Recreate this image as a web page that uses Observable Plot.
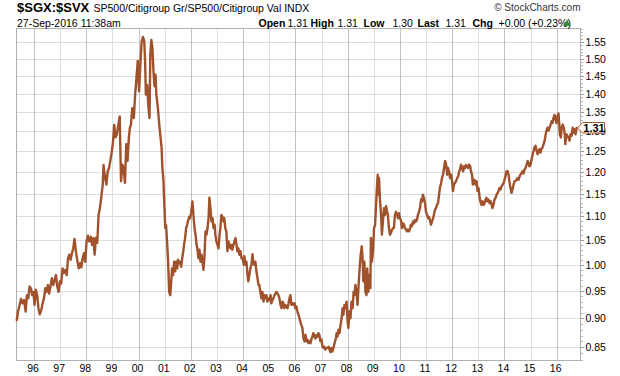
<!DOCTYPE html>
<html><head><meta charset="utf-8">
<script src="https://cdn.jsdelivr.net/npm/d3@7"></script>
<script src="https://cdn.jsdelivr.net/npm/@observablehq/plot@0.6"></script>
<style>body{margin:0;background:#fff} #chart{position:relative;width:620px;height:376px} #chart svg{position:absolute;left:0;top:0}</style>
</head><body><div id="chart"></div><script>
// ---- text ----
const titleText = "$SGX:$SVX";
const subtitleText = "SP500/Citigroup Gr/SP500/Citigroup Val INDX";
const dateText = "27-Sep-2016 11:38am";
const creditText = "\u00A9 StockCharts.com";
const quoteLabels = ["Open", "High", "Low", "Last", "Chg"];
const quoteValues = ["1.31", "1.31", "1.30", "1.31", "+0.00 (+0.23%)"];
// ---- axes ----
const yTicks = [0.85, 0.90, 0.95, 1.00, 1.05, 1.10, 1.15, 1.20, 1.25, 1.30, 1.35, 1.40, 1.45, 1.50, 1.55];
const yearTicks = [1996,1997,1998,1999,2000,2001,2002,2003,2004,2005,2006,2007,2008,2009,2010,2011,2012,2013,2014,2015,2016];
const yearLabels = ["96","97","98","99","00","01","02","03","04","05","06","07","08","09","10","11","12","13","14","15","16"];
const lastValue = 1.31;
// ---- series (decimal year, ratio) ----
const years = [
1995.32,1995.37,1995.43,1995.48,1995.54,1995.60,1995.66,1995.71,1995.76,1995.81,1995.86,1995.91,1995.96,1996.00,1996.05,1996.10,1996.15,1996.20,1996.26,1996.31,
1996.36,1996.41,1996.46,1996.51,1996.56,1996.61,1996.66,1996.72,1996.77,1996.82,1996.87,1996.92,1996.97,1997.02,1997.07,1997.12,1997.17,1997.23,1997.28,1997.33,
1997.38,1997.43,1997.48,1997.53,1997.58,1997.63,1997.69,1997.74,1997.79,1997.84,1997.89,1997.94,1997.99,1998.04,1998.09,1998.15,1998.20,1998.25,1998.30,1998.35,
1998.40,1998.45,1998.50,1998.55,1998.61,1998.64,1998.69,1998.75,1998.80,1998.85,1998.90,1998.95,1999.00,1999.05,1999.10,1999.15,1999.21,1999.26,1999.28,1999.31,
1999.36,1999.41,1999.46,1999.51,1999.56,1999.61,1999.65,
1999.69,1999.74,1999.80,1999.85,1999.90,1999.95,2000.00,2000.05,2000.10,2000.15,2000.20,2000.23,2000.26,2000.31,2000.36,2000.40,2000.43,2000.47,2000.51,2000.55,
2000.59,2000.63,2000.66,2000.72,2000.77,2000.82,2000.86,2000.89,2000.93,2000.97,2001.00,2001.03,2001.07,2001.11,2001.15,2001.19,2001.23,2001.26,2001.30,2001.34,
2001.38,2001.42,2001.46,2001.49,2001.53,2001.57,2001.61,2001.65,2001.69,2001.72,2001.76,2001.80,2001.84,2001.88,2001.92,2001.95,2001.99,2002.04,2002.08,2002.12,
2002.16,2002.20,2002.23,2002.27,2002.31,2002.35,2002.39,2002.43,2002.46,2002.50,2002.54,2002.58,2002.62,2002.66,2002.69,2002.73,2002.77,2002.81,2002.85,2002.89,
2002.92,2002.96,2003.00,2003.04,2003.08,2003.11,2003.15,2003.19,2003.23,2003.26,2003.30,2003.34,2003.38,2003.42,2003.46,2003.50,2003.53,2003.57,2003.61,2003.65,
2003.69,2003.73,2003.76,2003.80,2003.84,2003.88,2003.92,2003.96,2004.01,
2004.03,2004.07,2004.11,2004.15,2004.18,2004.22,2004.26,2004.30,2004.34,2004.37,2004.41,2004.45,2004.49,2004.53,2004.57,2004.60,2004.64,2004.68,2004.72,2004.76,
2004.80,2004.83,2004.87,2004.91,2004.95,2004.99,2005.03,2005.06,2005.10,2005.14,2005.18,2005.22,2005.26,2005.29,2005.33,2005.37,2005.41,2005.45,2005.49,2005.52,
2005.56,2005.60,2005.64,2005.68,2005.72,2005.75,2005.79,2005.83,2005.87,2005.91,2005.95,2005.98,2006.02,2006.06,2006.10,2006.14,2006.17,2006.21,2006.25,2006.29,
2006.33,2006.37,2006.40,2006.44,2006.48,2006.52,2006.56,2006.60,2006.63,2006.67,2006.71,2006.75,2006.79,2006.83,2006.86,2006.90,2006.94,2006.98,2007.02,2007.06,
2007.09,2007.13,2007.17,2007.21,2007.25,2007.29,2007.32,2007.36,2007.40,2007.44,2007.48,2007.52,2007.56,2007.59,2007.63,2007.67,2007.71,2007.75,2007.79,2007.82,
2007.86,2007.90,2007.94,2007.98,2008.01,2008.05,2008.09,2008.13,2008.17,2008.21,2008.24,2008.28,2008.32,
2008.36,2008.40,2008.44,2008.48,2008.52,2008.56,2008.58,2008.62,2008.66,2008.70,2008.73,2008.77,2008.81,2008.85,2008.87,2008.91,2008.95,2008.99,2009.03,2009.06,
2009.10,2009.13,2009.15,2009.18,2009.22,2009.26,2009.29,2009.33,2009.37,2009.41,2009.45,2009.49,2009.52,2009.56,2009.60,2009.64,2009.68,2009.72,2009.75,2009.79,
2009.83,2009.87,2009.91,2009.94,2009.98,2010.02,2010.06,2010.10,2010.14,2010.17,2010.21,2010.25,2010.29,2010.33,2010.37,2010.40,2010.44,2010.48,2010.52,2010.56,
2010.59,2010.63,2010.67,2010.71,2010.75,2010.79,2010.83,2010.86,2010.90,2010.94,2010.98,2011.02,2011.06,2011.09,2011.13,2011.17,2011.21,2011.25,2011.28,2011.32,
2011.36,2011.40,2011.44,2011.48,2011.52,2011.55,2011.59,2011.63,2011.67,2011.71,2011.75,2011.79,2011.82,2011.86,2011.90,2011.94,2011.98,2012.01,2012.05,2012.09,
2012.13,2012.17,2012.21,2012.25,2012.28,2012.32,2012.36,2012.40,2012.44,2012.48,2012.51,2012.55,2012.59,2012.63,2012.67,2012.70,2012.74,2012.77,
2012.80,2012.83,2012.87,2012.91,2012.95,2012.99,2013.03,2013.06,2013.10,2013.14,2013.18,2013.22,2013.26,2013.29,2013.33,2013.37,2013.41,2013.45,2013.49,2013.52,
2013.56,2013.60,2013.64,2013.68,2013.72,2013.75,2013.79,2013.83,2013.87,2013.91,2013.95,2013.98,2014.02,2014.06,2014.10,2014.14,2014.17,2014.21,2014.25,2014.29,
2014.33,2014.37,2014.40,2014.44,2014.48,2014.52,2014.56,2014.59,2014.63,2014.67,2014.71,2014.75,2014.79,2014.83,2014.87,2014.90,2014.94,2014.98,2015.02,2015.06,
2015.10,2015.13,2015.17,2015.21,2015.25,2015.29,2015.33,2015.36,2015.40,2015.44,2015.48,2015.52,2015.56,2015.59,2015.63,2015.67,2015.71,2015.75,2015.79,2015.82,
2015.86,2015.90,2015.94,2015.97,2016.01,2016.05,2016.08,2016.10,2016.14,2016.17,2016.21,2016.25,2016.29,2016.31,2016.35,2016.39,2016.43,2016.47,2016.51,2016.55,
2016.59,2016.63,2016.66,2016.70,2016.74
];
const values = [
0.898,0.913,0.925,0.936,0.928,0.934,0.913,0.943,0.937,0.959,0.956,0.943,0.949,0.925,0.953,0.943,0.919,0.908,0.916,0.928,
0.937,0.956,0.949,0.962,0.946,0.959,0.975,0.962,0.972,0.981,0.959,0.949,0.969,0.965,0.994,0.985,0.991,0.981,1.014,1.021,
1.011,1.024,1.034,1.053,1.028,1.011,0.994,1.004,0.996,1.014,1.024,1.007,1.048,1.060,1.048,1.058,1.041,1.055,1.021,1.056,
1.045,1.104,1.119,1.142,1.172,1.218,1.191,1.172,1.203,1.211,1.228,1.248,1.273,1.318,1.286,1.294,1.319,1.340,1.269,1.180,
1.219,1.211,1.176,1.269,1.228,1.286,1.311,
1.319,1.362,1.336,1.399,1.445,1.495,1.408,1.485,1.553,1.567,1.553,1.495,1.399,1.426,1.362,1.336,1.514,1.558,1.534,1.465,
1.422,1.455,1.399,1.362,1.319,1.286,1.261,1.211,1.183,1.119,1.076,1.083,1.048,1.007,0.949,0.943,0.969,0.994,0.981,1.007,
0.988,1.007,0.994,1.011,1.004,1.007,0.997,1.014,1.028,1.041,1.055,1.076,1.083,1.093,1.100,1.097,1.108,1.134,1.104,1.076,
1.062,1.041,1.034,1.014,1.031,1.007,1.021,1.007,0.991,1.014,1.069,1.062,1.076,1.097,1.142,1.119,1.090,1.097,1.076,1.083,
1.062,1.048,1.041,1.034,1.062,1.076,1.104,1.100,1.090,1.097,1.076,1.069,1.028,1.048,1.041,1.034,1.041,1.031,1.041,1.048,
1.055,1.041,1.028,1.034,1.021,1.028,1.014,1.014,1.001,
1.018,1.001,1.007,0.981,0.969,0.981,0.994,1.001,1.022,1.007,1.001,1.007,0.988,0.975,0.962,0.962,0.949,0.937,0.949,0.931,
0.943,0.937,0.943,0.931,0.937,0.934,0.943,0.928,0.934,0.937,0.943,0.946,0.949,0.946,0.943,0.937,0.925,0.919,0.931,0.928,
0.919,0.925,0.922,0.919,0.928,0.937,0.943,0.925,0.928,0.925,0.928,0.919,0.922,0.913,0.907,0.901,0.895,0.889,0.884,0.866,
0.861,0.872,0.861,0.864,0.858,0.861,0.858,0.866,0.869,0.875,0.869,0.866,0.872,0.869,0.875,0.872,0.861,0.864,0.852,0.850,
0.852,0.847,0.850,0.850,0.852,0.847,0.843,0.850,0.844,0.850,0.858,0.864,0.875,0.869,0.881,0.875,0.889,0.901,0.919,0.907,
0.925,0.919,0.931,0.895,0.884,0.913,0.901,0.931,0.919,0.949,0.943,0.962,0.949,
0.925,0.962,0.994,1.021,1.038,1.007,0.969,1.007,0.949,0.943,0.994,0.949,0.981,0.956,1.055,1.007,1.028,1.076,1.083,1.119,
1.164,1.195,1.149,1.187,1.134,1.104,1.062,1.090,1.119,1.104,1.123,1.111,1.104,1.076,1.062,1.066,1.073,1.076,1.076,1.104,
1.111,1.104,1.097,1.108,1.097,1.093,1.076,1.086,1.083,1.076,1.073,1.069,1.073,1.069,1.076,1.083,1.080,1.090,1.086,1.093,
1.090,1.093,1.104,1.111,1.119,1.138,1.134,1.149,1.142,1.130,1.111,1.104,1.097,1.100,1.093,1.083,1.090,1.097,1.104,1.115,
1.119,1.126,1.130,1.149,1.168,1.172,1.187,1.195,1.211,1.228,1.219,1.195,1.211,1.203,1.187,1.195,1.180,1.157,1.172,1.176,
1.180,1.187,1.191,1.203,1.207,1.219,1.211,1.203,1.215,1.211,1.218,1.215,1.211,1.219,1.215,1.203,1.195,1.172,
1.176,1.183,1.172,1.180,1.157,1.164,1.142,1.134,1.126,1.134,1.126,1.130,1.138,1.142,1.134,1.138,1.130,1.134,1.126,1.119,
1.126,1.138,1.142,1.149,1.153,1.157,1.164,1.161,1.168,1.172,1.176,1.183,1.191,1.203,1.204,1.195,1.180,1.164,1.153,1.161,
1.172,1.180,1.180,1.183,1.187,1.183,1.191,1.195,1.198,1.203,1.198,1.207,1.211,1.219,1.228,1.223,1.215,1.219,1.232,1.244,
1.253,1.261,1.265,1.253,1.244,1.253,1.257,1.248,1.257,1.261,1.269,1.278,1.294,1.303,1.311,1.303,1.311,1.319,1.328,1.323,
1.336,1.344,1.332,1.323,1.340,1.348,1.319,1.294,1.286,1.311,1.319,1.311,1.294,1.269,1.294,1.290,1.286,1.278,1.294,1.290,
1.311,1.298,1.307,1.294,1.310
];

function yearToDate(y) {
  const yr = Math.floor(y);
  const a = Date.UTC(yr, 0, 1), b = Date.UTC(yr + 1, 0, 1);
  return new Date(a + (y - yr) * (b - a));
}
const seriesLen = Math.min(years.length, values.length);
const seriesData = d3.range(seriesLen).map(i => ({date: yearToDate(years[i]), value: values[i]}));
const yearDates = yearTicks.map(y => yearToDate(y));
const evenYears = yearDates.filter((d, i) => yearTicks[i] % 2 === 0);
const oddYears = yearDates.filter((d, i) => yearTicks[i] % 2 === 1);
const minorTicks = d3.range(83, 160).map(v => v / 100);

const ML = 16, MR = 40, MT = 28, MB = 16;
const commonOpts = {
  width: 620, height: 376, marginLeft: ML, marginRight: MR, marginTop: MT, marginBottom: MB,
  style: {fontFamily: "Liberation Sans, Arial, sans-serif"},
  x: {type: "utc", domain: [yearToDate(1995.31), yearToDate(2016.89)], label: null, axis: null},
  y: {type: "log", domain: [0.8292, 1.5932], label: null, axis: null}
};
const crisp = {shapeRendering: "crispEdges"};

// layer 1: grid, frame, axes
const gridLayer = Plot.plot({
  ...commonOpts,
  marks: [
    Plot.ruleX(oddYears, {stroke: "#dedede", ...crisp}),
    Plot.ruleY(yTicks, {stroke: "#dedede", ...crisp}),
    Plot.ruleX(evenYears, {stroke: "#c2c2c2", ...crisp}),
    Plot.frame({stroke: "#b0b0b0", ...crisp}),
    Plot.axisY(minorTicks, {anchor: "right", label: null, tickSize: 2, tickFormat: () => "", stroke: "#b4b4b4", ...crisp}),
    Plot.axisY(yTicks, {anchor: "right", label: null, tickSize: 3, tickPadding: 2, tickFormat: d3.format(".2f"),
      fontSize: 10.5, stroke: "#999", ...crisp}),
    Plot.axisX(yearDates, {anchor: "bottom", label: null, tickSize: 0, tickPadding: 4, fontSize: 10.5, dx: -1.5,
      tickFormat: d => yearLabels[yearTicks.indexOf(d.getUTCFullYear())]})
  ]
});

function hdr(str, x, baseline, opts = {}) {
  return Plot.text([str], {text: d => d, frameAnchor: "top-left", dx: x - ML, dy: baseline - MT,
    textAnchor: "start", lineAnchor: "bottom", fontSize: 10.5, fill: "#000", ...opts});
}
const labelX = [258, 310, 363, 417, 472];
const valueX = [287, 337, 392, 445, 498];
const boxSymbol = {
  draw(ctx) {
    ctx.moveTo(-3, 0); ctx.lineTo(2, -5.5); ctx.lineTo(24, -5.5);
    ctx.lineTo(24, 5); ctx.lineTo(2, 5); ctx.closePath();
  }
};

// layer 2: series, last value, header
const overlayLayer = Plot.plot({
  ...commonOpts,
  marks: [
    Plot.line(seriesData, {x: "date", y: "value", stroke: "#a0522d", strokeWidth: 2.4}),
    Plot.dot([lastValue], {y: d => d, frameAnchor: "right", symbol: boxSymbol, fill: "#fff", stroke: "#a0522d", strokeWidth: 1}),
    Plot.text([lastValue], {y: d => d, frameAnchor: "right", dx: 13.5, text: d => d3.format(".2f")(d),
      fontWeight: "bold", fontSize: 11, textAnchor: "middle", fill: "#000"}),
    hdr(titleText, 16.5, 11, {fontSize: 13, fontWeight: "bold"}),
    hdr(subtitleText, 93, 11, {fontSize: 10.5}),
    hdr(creditText, 580, 10.5, {fontSize: 10, textAnchor: "end", fill: "#333"}),
    hdr(dateText, 16.5, 26.5, {fontSize: 10.5}),
    ...quoteLabels.map((t, i) => hdr(t, labelX[i], 26.5, {fontWeight: "bold", fontSize: 10.5})),
    ...quoteValues.map((t, i) => hdr(t, valueX[i], 26.5, {fontSize: 10.5})),
    Plot.dot([0], {frameAnchor: "top-left", dx: 566.5 - ML, dy: 23.3 - MT, symbol: "triangle", r: 2.8, fill: "#2e8b3a", stroke: "none"})
  ]
});
overlayLayer.style.background = "transparent";
const hostEl = document.getElementById("chart");
hostEl.appendChild(gridLayer);
hostEl.appendChild(overlayLayer);
</script></body></html>
